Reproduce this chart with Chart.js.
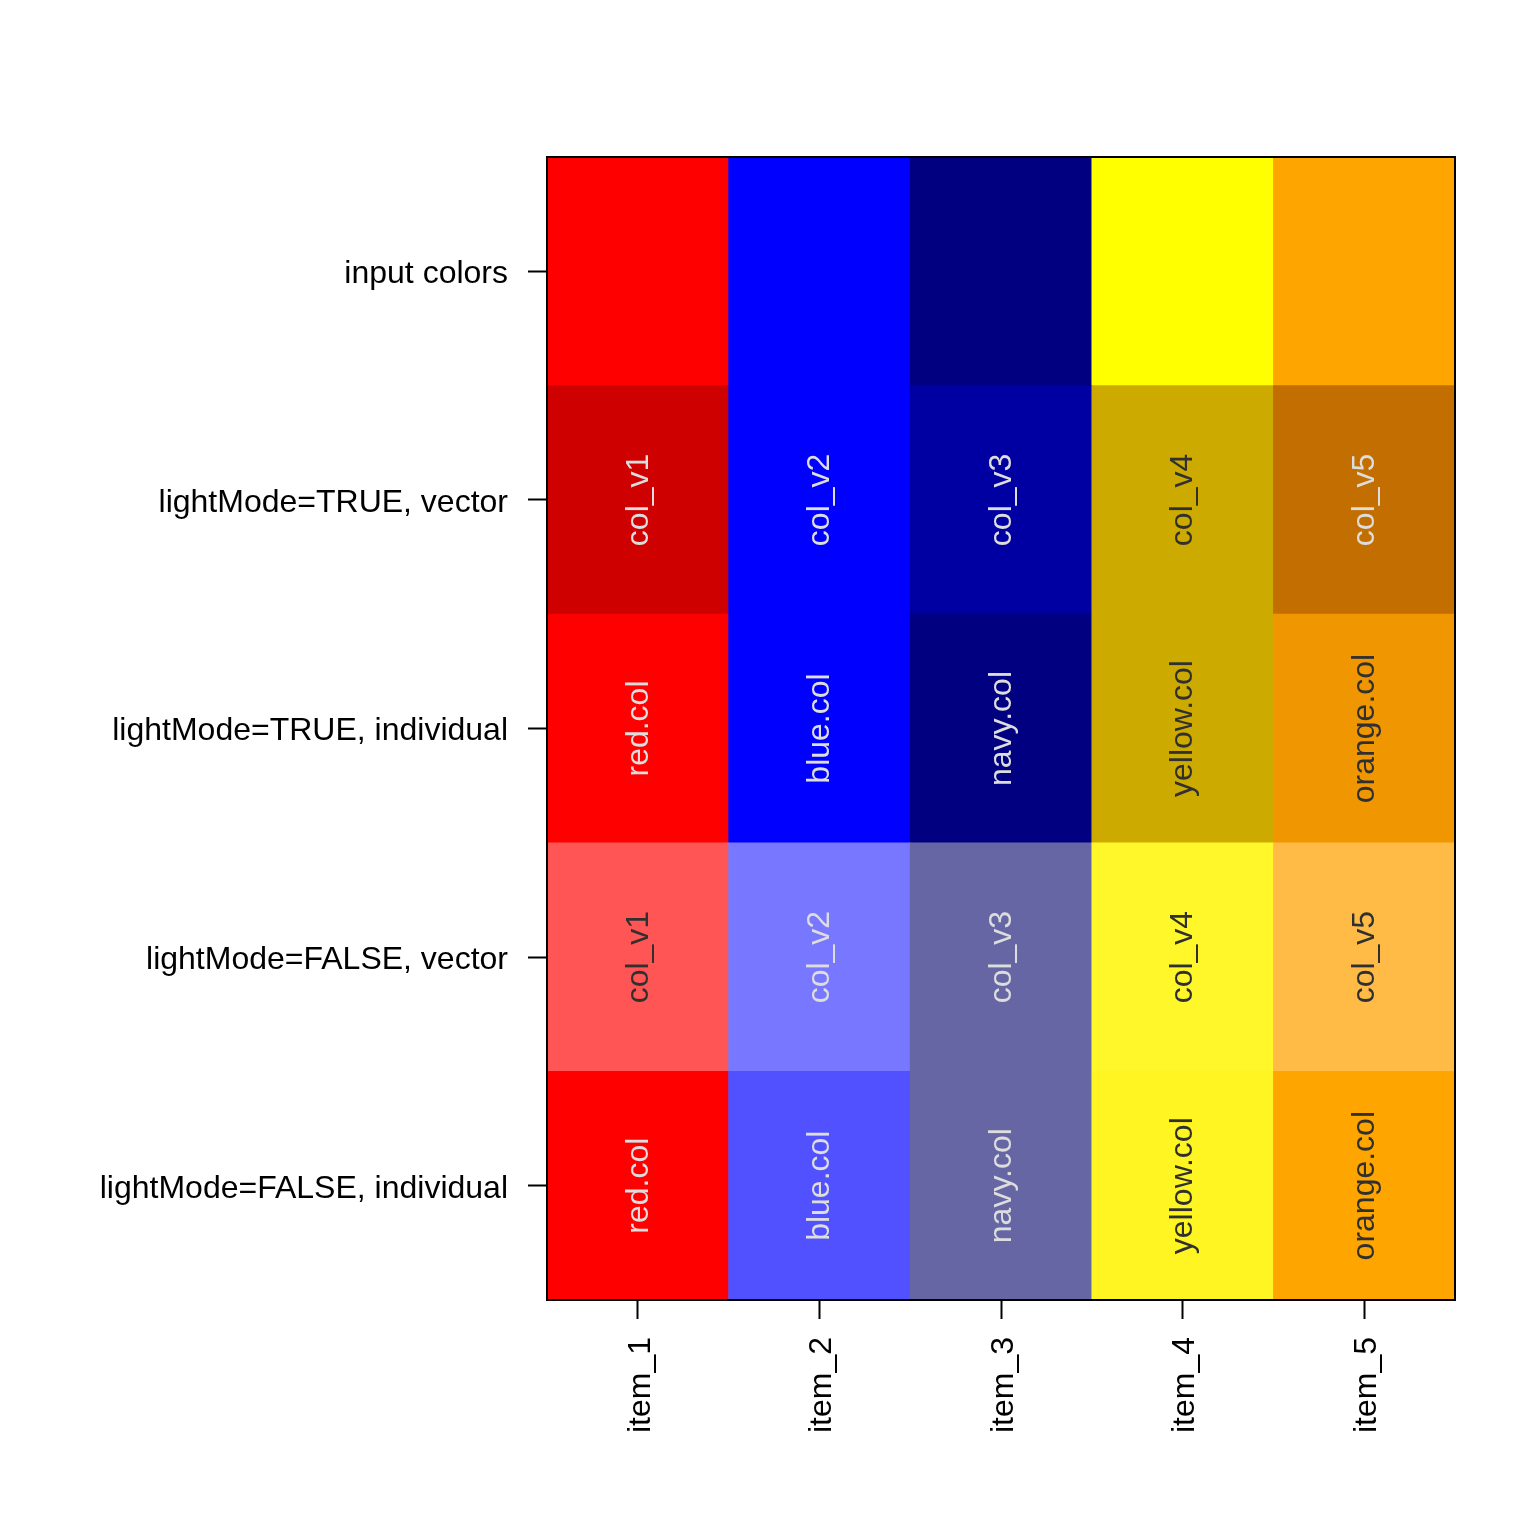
<!DOCTYPE html>
<html>
<head>
<meta charset="utf-8">
<script src="https://cdn.jsdelivr.net/npm/chart.js@4/dist/chart.umd.min.js"></script>
<style>
  html, body { margin: 0; padding: 0; background: #fff; }
  #wrap { width: 1536px; height: 1536px; }
</style>
</head>
<body>
<div id="wrap"><canvas id="chart"></canvas></div>
<script>
// columns, bottom-to-top rows
const items = ['item_1', 'item_2', 'item_3', 'item_4', 'item_5'];
const rowNames = [
    'lightMode=FALSE, individual',
    'lightMode=FALSE, vector',
    'lightMode=TRUE, individual',
    'lightMode=TRUE, vector',
    'input colors'
];

// every cell is one unit tall
const cellValues = [1, 1, 1, 1, 1];

const fillFalseIndiv = ['#FF0000', '#5151FF', '#6666A5', '#FFF522', '#FFA500'];
const fillFalseVec   = ['#FF5555', '#7777FF', '#6666A5', '#FFF72A', '#FFBB46'];
const fillTrueIndiv  = ['#FF0000', '#0000FF', '#000080', '#CDAA00', '#F09600'];
const fillTrueVec    = ['#CF0000', '#0000FF', '#0000A2', '#CDAA00', '#C26E00'];
const fillInput      = ['#FF0000', '#0000FF', '#000080', '#FFFF00', '#FFA500'];

const vecLabels   = ['col_v1', 'col_v2', 'col_v3', 'col_v4', 'col_v5'];
const indivLabels = ['red.col', 'blue.col', 'navy.col', 'yellow.col', 'orange.col'];

const LT = '#DDDDDD', DK = '#303030';
const txtFalseIndiv = [LT, LT, LT, DK, DK];
const txtFalseVec   = [DK, LT, LT, DK, DK];
const txtTrueIndiv  = [LT, LT, LT, DK, DK];
const txtTrueVec    = [LT, LT, LT, DK, LT];

const rows = [
    { fill: fillFalseIndiv, labels: indivLabels, text: txtFalseIndiv },
    { fill: fillFalseVec,   labels: vecLabels,   text: txtFalseVec },
    { fill: fillTrueIndiv,  labels: indivLabels, text: txtTrueIndiv },
    { fill: fillTrueVec,    labels: vecLabels,   text: txtTrueVec },
    { fill: fillInput,      labels: null,        text: null }
];

const FONT = '"Liberation Sans", Arial, Helvetica, sans-serif';

// writes the rotated label inside each cell
const cellText = {
    id: 'cellText',
    afterDatasetsDraw(chart) {
        const ctx = chart.ctx;
        ctx.save();
        ctx.font = '32px ' + FONT;
        ctx.textAlign = 'center';
        ctx.textBaseline = 'middle';
        rows.forEach((row, di) => {
            if (!row.labels) return;
            chart.getDatasetMeta(di).data.forEach((bar, i) => {
                const cy = (bar.y + bar.base) / 2;
                ctx.save();
                ctx.translate(bar.x, cy);
                ctx.rotate(-Math.PI / 2);
                ctx.fillStyle = row.text[i];
                ctx.fillText(row.labels[i], 0, 1);
                ctx.restore();
            });
        });
        ctx.restore();
    }
};

// box round the plot area
const frame = {
    id: 'frame',
    afterDraw(chart) {
        const a = chart.chartArea, ctx = chart.ctx;
        ctx.save();
        ctx.strokeStyle = '#000';
        ctx.lineWidth = 2;
        ctx.strokeRect(a.left, a.top, a.right - a.left, a.bottom - a.top);
        ctx.restore();
    }
};

new Chart(document.getElementById('chart'), {
    type: 'bar',
    data: {
        labels: items,
        datasets: rows.map((row, i) => ({
            label: rowNames[i],
            data: cellValues,
            backgroundColor: row.fill,
            borderWidth: 0,
            barPercentage: 1,
            categoryPercentage: 1
        }))
    },
    options: {
        responsive: true,
        maintainAspectRatio: false,
        animation: false,
        layout: { padding: { top: 157, right: 81, left: 0, bottom: 0 } },
        plugins: { legend: { display: false }, tooltip: { enabled: false } },
        scales: {
            x: {
                stacked: true,
                grid: { display: true, drawOnChartArea: false, offset: false, tickLength: 19, tickColor: '#000', tickWidth: 2 },
                border: { display: false },
                ticks: { color: '#000', font: { size: 32, family: FONT }, minRotation: 90, maxRotation: 90, padding: 18, labelOffset: 3 },
                afterFit(scale) { scale.height = 236; }
            },
            y: {
                stacked: true,
                min: 0,
                max: 5,
                afterBuildTicks(scale) {
                    scale.ticks = rowNames.map((_, i) => ({ value: i + 0.5 }));
                },
                grid: { display: true, drawOnChartArea: false, tickLength: 19, tickColor: '#000', tickWidth: 2 },
                border: { display: false },
                ticks: {
                    color: '#000',
                    font: { size: 32, family: FONT },
                    padding: 20,
                    labelOffset: 3,
                    autoSkip: false,
                    callback: (v) => rowNames[Math.floor(v)]
                },
                afterFit(scale) { scale.width = 547; }
            }
        }
    },
    plugins: [cellText, frame]
});
</script>
</body>
</html>
